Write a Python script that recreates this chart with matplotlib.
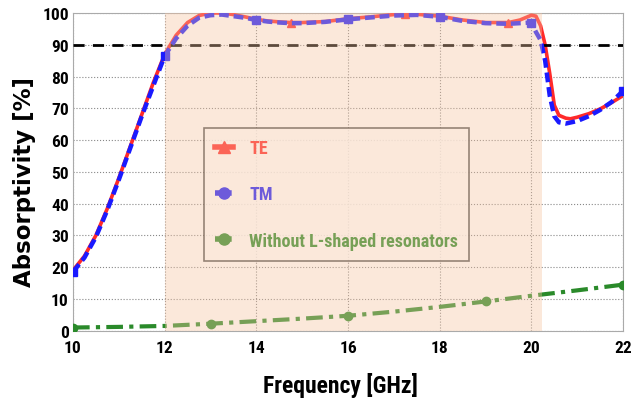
import numpy as np
import matplotlib
matplotlib.use('Agg')
import matplotlib.pyplot as plt
from matplotlib.lines import Line2D

# data
te_f = [10.0, 10.25, 10.5, 10.75, 11.0, 11.25, 11.5, 11.75, 12.0, 12.25, 12.5, 12.75,
        13.0, 13.25, 13.5, 13.75, 14.0, 14.25, 14.5, 14.75, 15.0, 15.5, 16.0, 16.5,
        17.0, 17.5, 18.0, 18.5, 19.0, 19.5, 19.75, 20.0, 20.1, 20.2, 20.3, 20.4,
        20.5, 20.6, 20.75, 20.85, 21.0, 21.25, 21.5, 21.75, 22.0]
te_a = [19, 23.5, 30, 38.5, 48, 58, 68, 78, 87, 93, 97, 99.2,
        100, 100, 99.5, 98.8, 98, 97.5, 97.2, 97, 97, 97.3, 98.2, 98.8,
        99.5, 99.6, 99, 97.8, 97, 97, 97.8, 99.3, 99, 96, 90, 81,
        71, 67.8, 66.9, 66.7, 67.2, 68.3, 69.8, 71.8, 74]

tm_f = [10.0, 10.25, 10.5, 10.75, 11.0, 11.25, 11.5, 11.75, 12.0, 12.25, 12.5, 12.75,
        13.0, 13.25, 13.5, 13.75, 14.0, 14.25, 14.5, 14.75, 15.0, 15.5, 16.0, 16.5,
        17.0, 17.5, 18.0, 18.5, 19.0, 19.5, 19.75, 20.0, 20.1, 20.2, 20.3, 20.4,
        20.5, 20.6, 20.75, 21.0, 21.25, 21.5, 21.75, 22.0]
tm_a = [18.5, 23, 29.5, 38, 47.5, 57.5, 67.5, 77, 86.5, 92, 96, 98.5,
        99.3, 99.5, 99, 98.5, 97.8, 97.3, 97, 96.8, 96.8, 97.2, 98, 98.6,
        99.2, 99.4, 98.8, 97.5, 96.8, 96.6, 96.8, 97, 94, 91.5, 85, 74,
        67.5, 65.6, 65.2, 66, 67.5, 69.5, 72, 75.5]

wo_f = [10, 11, 12, 13, 14, 15, 16, 17, 18, 19, 20, 21, 22]
wo_a = [1, 1.2, 1.5, 2.2, 3, 3.8, 4.7, 6, 7.5, 9.2, 11, 12.7, 14.5]

te_mark = [14.75, 17.25, 18.0, 19.5]
tm_mark = [10, 12, 14, 16, 18, 20, 22]
wo_mark = [10, 13, 16, 19, 22]

xticks = [10, 12, 14, 16, 18, 20, 22]
yticks = list(range(0, 101, 10))

band = (12.0, 20.23)

narrow = ['Roboto Condensed', 'PT Sans Narrow', 'Archivo Narrow', 'DejaVu Sans']

fig = plt.figure(figsize=(6.43, 4.06), dpi=100)
ax = fig.add_axes([0.1135, 0.183, 0.8555, 0.7825])

ax.plot(te_f, te_a, color='#ff2a2a', lw=2.6, zorder=3)
ax.plot(te_mark, np.interp(te_mark, te_f, te_a), ls='none', marker='^',
        color='#ff2a2a', ms=6, zorder=3)
ax.plot(tm_f, tm_a, color='#1a1aff', lw=3.2, ls=(0, (2.2, 1.1)), zorder=4)
ax.plot(tm_mark, np.interp(tm_mark, tm_f, tm_a), ls='none', marker='s',
        color='#1a1aff', ms=6, zorder=4)
ax.plot(wo_f, wo_a, color='#2a8a2a', lw=3.0, ls=(0, (4, 1.5, 1, 1.5)), zorder=3)
ax.plot(wo_mark, np.interp(wo_mark, wo_f, wo_a), ls='none', marker='o',
        color='#2a8a2a', ms=6, zorder=3)

ax.axhline(90, color='black', lw=2.0, ls=(0, (4, 3)), zorder=3)

ax.axvspan(band[0], band[1], color='#f5c4a0', alpha=0.38, lw=0, zorder=6)

ax.set_xlim(10, 22)
ax.set_ylim(0, 100)
ax.set_xticks(xticks)
ax.set_yticks(yticks)
ax.grid(True, ls=':', color='#888888', lw=0.8)
for s in ax.spines.values():
    s.set_color('#aaaaaa')
ax.tick_params(length=0)
ax.tick_params(axis='y', pad=3)
ax.tick_params(axis='x', pad=7)
for lab in ax.get_xticklabels() + ax.get_yticklabels():
    lab.set_family(narrow)
    lab.set_fontweight('bold')
    lab.set_fontsize(12.5)

ax.set_xlabel('Frequency [GHz]', family=narrow, fontweight='bold', fontsize=17, va='center')
ax.xaxis.set_label_coords(0.487, -0.17)
ax.set_ylabel('Absorptivity [%]', family='DejaVu Sans', fontweight='bold', fontsize=16.5, va='center')
ax.yaxis.set_label_coords(-0.089, 0.47)

handles = [
    Line2D([], [], color='#ff2a2a', lw=4, marker='^', ms=8),
    Line2D([], [], color='#1a1aff', lw=4, ls=(0, (1, 1)), marker='o', ms=8),
    Line2D([], [], color='#2a8a2a', lw=4, ls=(0, (3, 1, 1, 1)), marker='o', ms=8),
]
leg = ax.legend(handles, ['TE', 'TM', 'Without L-shaped resonators'],
                loc='upper left', bbox_to_anchor=(0.238, 0.639),
                frameon=True, fancybox=False, edgecolor='#333333',
                handlelength=1.0, handletextpad=0.9, labelspacing=1.57,
                borderpad=0.62, borderaxespad=0,
                prop={'family': narrow, 'weight': 'bold', 'size': 13})
leg.get_frame().set_linewidth(1.2)
leg.set_zorder(5)
for t, c in zip(leg.get_texts(), ['#ff2a2a', '#1a1aff', '#2a8a2a']):
    t.set_color(c)

fig.savefig('out.png', dpi=100)
